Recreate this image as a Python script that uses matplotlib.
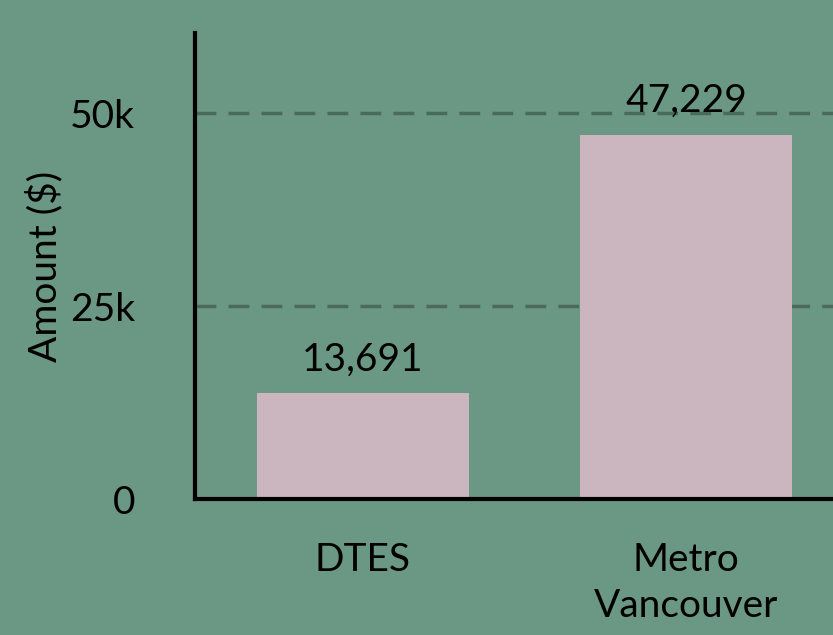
import matplotlib
matplotlib.use("Agg")
from matplotlib import pyplot as plt
from matplotlib.ticker import FuncFormatter

# data
regions = ["DTES", "Metro\nVancouver"]
amounts = [13691, 47229]
y_ticks = [0, 25000, 50000]

bg = "#6b9785"
bar_color = "#cbb5be"

plt.rcParams["font.family"] = ["Lato", "DejaVu Sans"]

fig = plt.figure(figsize=(8.33, 6.35), dpi=100, facecolor=bg)
ax = fig.add_axes([195 / 833, 136 / 635, 638 / 833, 466 / 635])
ax.set_facecolor(bg)

x = range(len(regions))
bars = ax.bar(x, amounts, width=0.656, color=bar_color, zorder=2)

for rect, val in zip(bars, amounts):
    ax.text(rect.get_x() + rect.get_width() / 2, val + 2000, f"{val:,}",
            ha="center", va="bottom", fontsize=28, color="black", zorder=3)

ax.set_xlim(-0.52, 1.455)
ax.set_ylim(0, 60400)
ax.set_xticks(list(x))
ax.set_xticklabels(regions, fontsize=28, linespacing=1.35)
ax.set_yticks(y_ticks)
ax.yaxis.set_major_formatter(FuncFormatter(lambda v, p: "0" if v == 0 else f"{int(v / 1000)}k"))
ax.tick_params(axis="y", length=0, pad=43, labelsize=28)
ax.tick_params(axis="x", length=0, pad=31)

ax.set_ylabel("Amount ($)", fontsize=28, labelpad=5)

for v in y_ticks[1:]:
    ax.axhline(v, color="#4a6a5c", linestyle=(0, (6, 3.5)), linewidth=2.5, zorder=1)

for side in ["top", "right"]:
    ax.spines[side].set_visible(False)
ax.spines["left"].set_linewidth(3)
ax.spines["bottom"].set_linewidth(3)

fig.savefig("out.png", dpi=100, facecolor=bg)
